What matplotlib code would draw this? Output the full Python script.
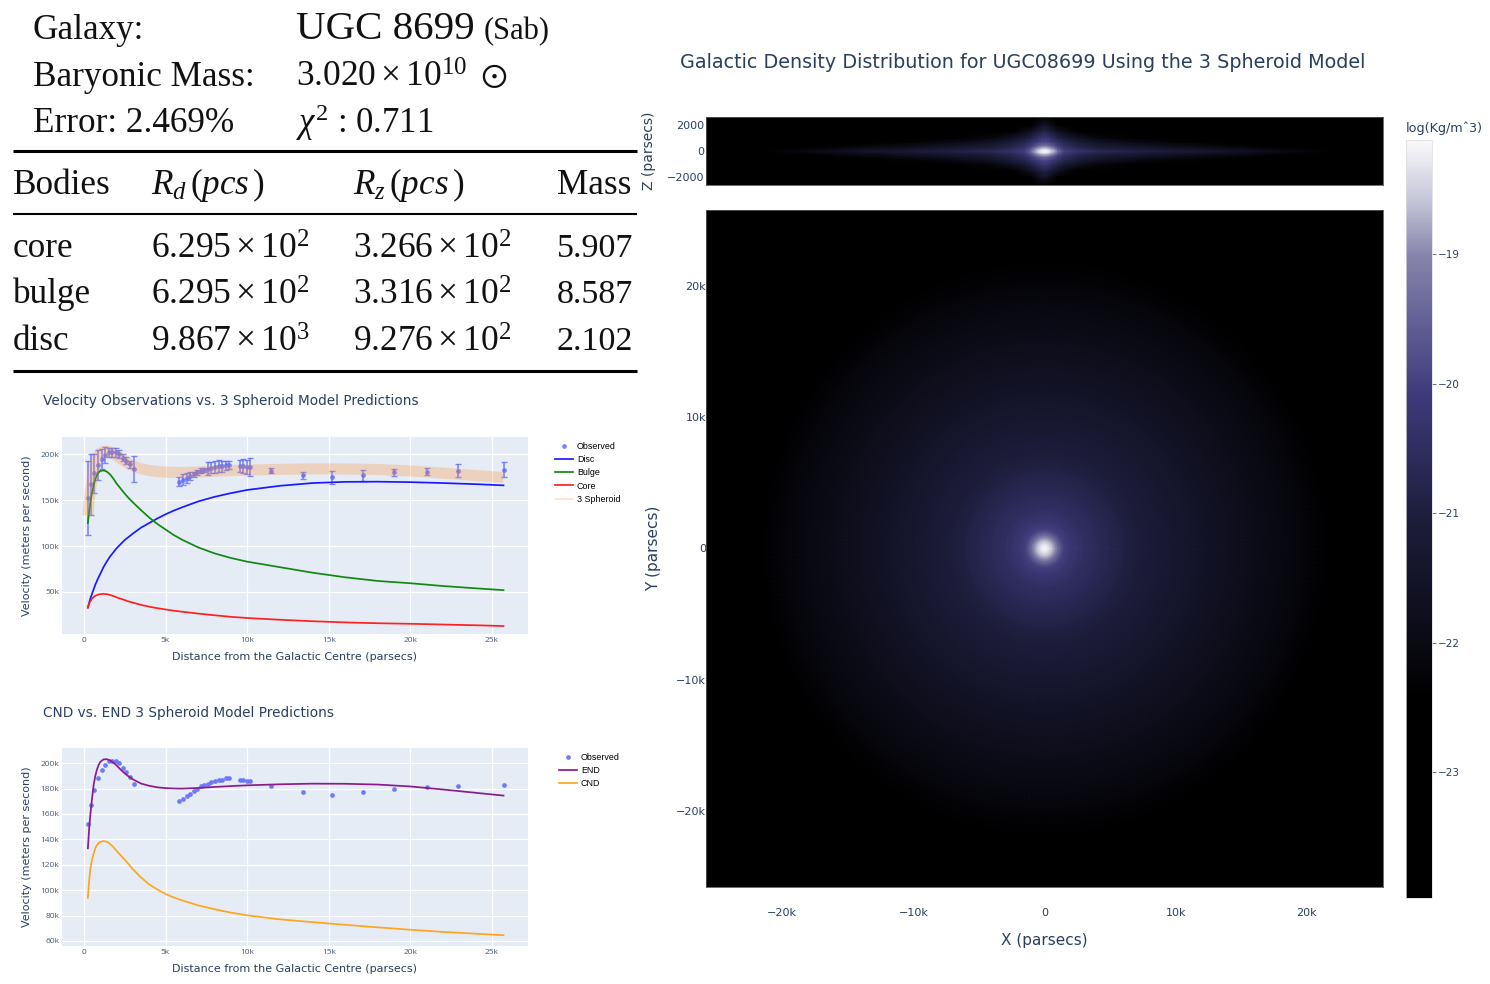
import numpy as np
import matplotlib
matplotlib.use('Agg')
import matplotlib.pyplot as plt
from matplotlib.colors import LinearSegmentedColormap

plt.rcParams['mathtext.fontset'] = 'custom'
plt.rcParams['mathtext.rm'] = 'Liberation Serif'
plt.rcParams['mathtext.it'] = 'Liberation Serif:italic'
plt.rcParams['mathtext.fallback'] = 'stix'

W, H = 1490, 984
NAVY = '#2a3f5f'
TICK = '#44597a'
PLOT_BG = '#e5ecf6'

# observed rotation curve
obs_x = [245, 430, 650, 880, 1080, 1310, 1530, 1740, 1960, 2160, 2370, 2590, 2820, 3040,
         5840, 6070, 6290, 6520, 6740, 6940, 7150, 7370, 7600, 7800, 8030, 8250, 8460, 8680, 8880,
         9540, 9760, 9990, 10190, 11440, 13400, 15200, 17100, 19000, 21000, 22900, 25700]
obs_v = [152, 167, 179, 188, 195, 199, 202, 202, 202, 200, 196, 193, 189, 184,
         170, 172, 174, 176, 178, 180, 182, 183, 184, 185, 186, 187, 187, 188, 188,
         187, 187, 186, 186, 182, 177, 175, 177, 180, 181, 182, 183]
obs_err = [40, 33, 21, 16, 11, 9, 5, 5, 5, 4, 4, 4, 4, 14,
           5, 6, 5, 4, 3, 3, 3, 2, 7, 6, 7, 7, 6, 5, 4,
           7, 8, 8, 10, 2.5, 4, 7, 6, 4, 4, 7, 8]

# model curves
model_x = [245, 320, 400, 500, 600, 700, 800, 900, 1000, 1200, 1400, 1600, 1800, 2000, 2250, 2500, 2750, 3000,
           3500, 4000, 4500, 5000, 5500, 6000, 7000, 8000, 9000, 10000, 12000, 14000, 16000, 18000,
           20000, 22000, 24000, 25700]
disc_v = [33, 38, 43, 48, 53, 58, 62, 66, 69.5, 77, 83, 88.5, 93, 97.5, 102, 106.5, 110, 113.5,
          120, 125, 130, 134.5, 138.5, 142, 148.5, 153.5, 157.5, 161, 165.5, 168.5, 169.8, 170,
          169.5, 168.5, 167.3, 166]
bulge_v = [125, 137, 148, 158, 166, 172.5, 177, 180, 181.5, 182.3, 181, 178, 173.5, 168, 162.5, 157, 152, 147.5,
           139, 131, 124, 118, 112, 107, 98.5, 92, 87, 83, 77, 71, 66, 62,
           59.5, 56.5, 54, 52]
core_v = [33, 37, 40, 42.8, 44.6, 45.8, 46.6, 47.2, 47.6, 48, 47.6, 46.8, 45.6, 44.2, 42.7, 41.2, 39.7, 38.4,
          36, 34, 32.4, 31, 29.7, 28.6, 26.5, 24.7, 23, 21.7, 19.8, 18.2, 16.9, 16,
          15.4, 14.6, 13.8, 13]
spheroid_v = [133, 148, 160, 172, 183, 190, 195, 198.5, 201, 203, 203.2, 202.3, 200.5, 198.3, 195, 192, 189.5, 187.3,
              184, 182.2, 181, 180.4, 180.1, 180, 180.5, 181.3, 182, 182.6, 183.4, 183.9, 183.8, 183.2,
              181.7, 179.3, 176.7, 174.5]
end_v = [133, 148, 160, 172, 183, 190, 195, 198.5, 201, 203, 203.2, 202.3, 200.5, 198.3, 195, 192, 189.5, 187.3,
         184, 182.2, 181, 180.4, 180.1, 180, 180.5, 181.3, 182, 182.6, 183.4, 183.9, 183.8, 183.2,
         181.7, 179.3, 176.7, 174.5]
cnd_v = [94, 107, 117, 124, 129, 133, 135.5, 137, 138, 138.7, 138.2, 136.5, 134, 131, 127.5, 124, 120.3, 116.5,
         110, 104.5, 100.5, 97, 94.3, 92, 88, 85, 82.3, 80.2, 77, 74.8, 72.7, 70.7,
         68.8, 67.1, 65.7, 64.5]

# log density, by radius
face_r = [0, 200, 400, 600, 800, 1000, 1300, 1500, 2000, 3000, 5000, 7000, 10000,
          14000, 18000, 22000, 26000, 37000]
face_rho = [-18.12, -18.2, -18.4, -18.65, -18.95, -19.3, -19.8, -20.0, -20.2, -20.45, -20.75,
            -21.05, -21.35, -21.7, -22.05, -22.4, -22.8, -23.97]

# log density of the edge-on map, one quadrant (rows are z, columns are x)
edge_x = [0, 250, 500, 1000, 1500, 2500, 4000, 7000, 10000, 14000, 18000, 22000, 26000]
edge_z = [0, 100, 200, 400, 700, 1000, 1500, 2000, 2600]
edge_rho = [
    [-18.12, -18.22, -18.45, -19.3, -20.0, -20.35, -20.6, -20.9, -21.15, -21.5, -21.95, -22.35, -22.8],
    [-18.2, -18.3, -18.6, -19.45, -20.1, -20.45, -20.75, -21.05, -21.3, -21.65, -22.1, -22.5, -22.95],
    [-18.5, -18.6, -18.85, -19.65, -20.2, -20.6, -20.95, -21.25, -21.5, -21.85, -22.25, -22.65, -23.1],
    [-19.2, -19.3, -19.5, -20.05, -20.45, -20.85, -21.2, -21.55, -21.85, -22.2, -22.6, -23.0, -23.4],
    [-19.9, -19.95, -20.1, -20.4, -20.75, -21.1, -21.6, -22.05, -22.3, -22.7, -23.0, -23.4, -23.8],
    [-20.15, -20.25, -20.45, -20.85, -21.2, -21.6, -22.1, -22.5, -22.8, -23.1, -23.4, -23.7, -23.97],
    [-20.8, -20.95, -21.15, -21.6, -21.95, -22.4, -22.85, -23.2, -23.4, -23.6, -23.8, -23.97, -23.97],
    [-21.5, -21.65, -21.9, -22.4, -22.7, -23.0, -23.3, -23.6, -23.8, -23.97, -23.97, -23.97, -23.97],
    [-22.8, -22.9, -23.0, -23.2, -23.4, -23.6, -23.8, -23.97, -23.97, -23.97, -23.97, -23.97, -23.97],
]

cmap_pos = [0, 0.268, 0.337, 0.508, 0.662, 0.764, 0.85, 0.918, 1]
cmap_col = ['#000000', '#000000', '#0a0a14', '#1e1e3e', '#3e3a7a', '#646196', '#8785ac', '#c3c3d7', '#fafafc']

# table
head_labels = ['Galaxy:', 'Baryonic Mass:', 'Error: 2.469%']
head_values = [r'UGC 8699', r'$3.020\times10^{10}\ \odot$', r'$\chi^{2}$ : 0.711']
col_names = ['Bodies', r'$R_{d}\,(pcs\,)$', r'$R_{z}\,(pcs\,)$', 'Mass']
bodies = ['core', 'bulge', 'disc']
rd_vals = [r'$6.295\times10^{2}$', r'$6.295\times10^{2}$', r'$9.867\times10^{3}$']
rz_vals = [r'$3.266\times10^{2}$', r'$3.316\times10^{2}$', r'$9.276\times10^{2}$']
mass_vals = ['5.907', '8.587', '2.102']

dist_ticks = [0, 5000, 10000, 15000, 20000, 25000]
dist_labels = ['0', '5k', '10k', '15k', '20k', '25k']
map_ticks = [-20000, -10000, 0, 10000, 20000]
map_labels = ['\u221220k', '\u221210k', '0', '10k', '20k']
z_ticks = [-2000, 0, 2000]
z_labels = ['\u22122000', '0', '2000']
cbar_ticks = [-19, -20, -21, -22, -23]
cbar_labels = ['\u221219', '\u221220', '\u221221', '\u221222', '\u221223']


def px_axes(fig, left, top, right, bottom):
    return fig.add_axes([left / W, 1 - bottom / H, (right - left) / W, (bottom - top) / H])


def curve_panel(fig, top, bottom, ylim, yticks, ylabels):
    ax = px_axes(fig, 62, top, 528, bottom)
    ax.set_facecolor(PLOT_BG)
    ax.set_xlim(-1340, 27200)
    ax.set_ylim(*ylim)
    ax.set_xticks(dist_ticks)
    ax.set_xticklabels(dist_labels)
    ax.set_yticks(yticks)
    ax.set_yticklabels(ylabels)
    ax.grid(color='white', lw=0.9)
    ax.set_axisbelow(True)
    ax.tick_params(length=0, labelsize=6, labelcolor=TICK, pad=2)
    for s in ax.spines.values():
        s.set_visible(False)
    for lab in ax.get_xticklabels() + ax.get_yticklabels():
        lab.set_family('Open Sans')
    ax.set_xlabel('Distance from the Galactic Centre (parsecs)', fontsize=8, color=NAVY, labelpad=6)
    ax.set_ylabel('Velocity (meters per second)', fontsize=8, color=NAVY, labelpad=6)
    return ax


def px_legend(ax, left, top):
    ax.legend(loc='upper left', bbox_to_anchor=(left / W, 1 - top / H), bbox_transform=ax.figure.transFigure,
              frameon=False, borderpad=0, borderaxespad=0, handlelength=2.0,
              handletextpad=0.45, labelspacing=0.47, numpoints=1,
              prop={'family': 'Liberation Sans', 'size': 6.4})


fig = plt.figure(figsize=(W / 100, H / 100), dpi=100)

# page layer in pixel coordinates, for the table and the titles
page = fig.add_axes([0, 0, 1, 1])
page.set_xlim(0, W)
page.set_ylim(H, 0)
page.axis('off')

serif = 'Liberation Serif'
ink = '#111111'
base = [39, 86, 132]
for lab, y in zip(head_labels, base):
    page.text(33, y, lab, family=serif, fontsize=25.3, va='baseline', color=ink)
page.text(296, base[0], head_values[0], family=serif, fontsize=29.5, va='baseline', color=ink)
page.text(484, base[0], '(Sab)', family=serif, fontsize=22, va='baseline', color=ink)
page.text(296, base[1] + 1, head_values[1], family=serif, fontsize=25.5, va='baseline', color=ink)
page.text(296, base[2] + 1, head_values[2], family=serif, fontsize=25, va='baseline', color=ink)

col_x = [13, 151, 353, 557]
for name, x in zip(col_names, col_x):
    page.text(x, 194, name, family=serif, fontsize=25.3, va='baseline', color=ink)
for i, y in enumerate([257, 303, 350]):
    page.text(col_x[0], y, bodies[i], family=serif, fontsize=25.3, va='baseline', color=ink)
    page.text(col_x[1], y + 1.5, rd_vals[i], family=serif, fontsize=25.5, va='baseline', color=ink)
    page.text(col_x[2], y + 1.5, rz_vals[i], family=serif, fontsize=25.5, va='baseline', color=ink)
    page.text(col_x[3], y, mass_vals[i], family=serif, fontsize=24.5, va='baseline', color=ink)
page.hlines([150.5, 370.5], 13, 637, color='black', lw=2.2)
page.hlines([214], 13, 637, color='black', lw=1.5)

page.text(43, 401.5, 'Velocity Observations vs. 3 Spheroid Model Predictions', fontsize=9.8, color=NAVY, va='center')
page.text(43, 712.5, 'CND vs. END 3 Spheroid Model Predictions', fontsize=9.85, color=NAVY, va='center')
page.text(680, 62, 'Galactic Density Distribution for UGC08699 Using the 3 Spheroid Model',
          fontsize=13.75, color=NAVY, va='center')

# velocity components
ax1 = curve_panel(fig, 437, 634, (4300, 218600), [50000, 100000, 150000, 200000], ['50k', '100k', '150k', '200k'])
v_obs = np.array(obs_v) * 1000
ax1.errorbar(obs_x, v_obs, yerr=np.array(obs_err) * 1000, fmt='none', ecolor='#636efa', elinewidth=1.2,
             capsize=2.4, capthick=1.0, alpha=0.8, zorder=3)
ax1.plot(obs_x, v_obs, 'o', color='#636efa', ms=3.4, alpha=0.85, mew=0, label='Observed', zorder=3)
ax1.plot(model_x, np.array(disc_v) * 1000, color='#1a1aff', lw=1.25, label='Disc', zorder=4)
ax1.plot(model_x, np.array(bulge_v) * 1000, color='#118811', lw=1.25, label='Bulge', zorder=4)
ax1.plot(model_x, np.array(core_v) * 1000, color='#ff2020', lw=1.25, label='Core', zorder=4)
ax1.plot(model_x, np.array(spheroid_v) * 1000, color='#ff8c32', lw=8, alpha=0.28, solid_capstyle='butt',
         label='3 Spheroid', zorder=5)
px_legend(ax1, 555, 442)
ax1.get_legend().get_lines()[4].set_linewidth(1.1)

# END and CND
ax2 = curve_panel(fig, 748, 946, (56000, 212000), [60000, 80000, 100000, 120000, 140000, 160000, 180000, 200000],
                  ['60k', '80k', '100k', '120k', '140k', '160k', '180k', '200k'])
ax2.plot(obs_x, v_obs, 'o', color='#636efa', ms=3.4, alpha=0.9, mew=0, label='Observed', zorder=3)
ax2.plot(model_x, np.array(end_v) * 1000, color='#8b1a8b', lw=1.25, label='END', zorder=4)
ax2.plot(model_x, np.array(cnd_v) * 1000, color='#ffa51e', lw=1.25, label='CND', zorder=4)
px_legend(ax2, 559, 753)

# density maps
cmap = LinearSegmentedColormap.from_list('density', list(zip(cmap_pos, cmap_col)), N=512)
vmin, vmax = -23.97, -18.12

ax_xy = px_axes(fig, 706, 210, 1383, 887)
theta = np.linspace(0, 2 * np.pi, 361)
rr, tt = np.meshgrid(face_r, theta)
cc = np.tile(face_rho, (len(theta), 1))
mesh = ax_xy.pcolormesh(rr * np.cos(tt), rr * np.sin(tt), cc, shading='gouraud', cmap=cmap, vmin=vmin, vmax=vmax,
                        rasterized=True)
ax_xy.set_xlim(-25800, 25800)
ax_xy.set_ylim(-25800, 25800)
ax_xy.set_xticks(map_ticks)
ax_xy.set_xticklabels(map_labels)
ax_xy.set_yticks(map_ticks)
ax_xy.set_yticklabels(map_labels)
ax_xy.tick_params(length=0, labelsize=8, labelcolor=NAVY, pad=0)
ax_xy.tick_params(axis='x', pad=15)
ax_xy.set_xlabel('X (parsecs)', fontsize=11, color=NAVY, labelpad=11)
for s in ax_xy.spines.values():
    s.set_color('#555555')
    s.set_linewidth(0.6)

ax_xz = px_axes(fig, 706, 117, 1383, 185)
edge_q = np.array(edge_rho)
edge_full = np.concatenate([edge_q[::-1, :], edge_q[1:, :]], axis=0)
edge_full = np.concatenate([edge_full[:, ::-1], edge_full[:, 1:]], axis=1)
xs = np.array(edge_x)
zs = np.array(edge_z)
xs_full = np.concatenate([-xs[::-1], xs[1:]])
zs_full = np.concatenate([-zs[::-1], zs[1:]])
ax_xz.pcolormesh(xs_full, zs_full, edge_full, shading='gouraud', cmap=cmap, vmin=vmin, vmax=vmax, rasterized=True)
ax_xz.set_xlim(-25800, 25800)
ax_xz.set_ylim(-2600, 2600)
ax_xz.set_xticks([])
ax_xz.set_yticks(z_ticks)
ax_xz.set_yticklabels(z_labels)
ax_xz.tick_params(length=0, labelsize=8, labelcolor=NAVY, pad=1)
for s in ax_xz.spines.values():
    s.set_color('#555555')
    s.set_linewidth(0.6)

page.text(654, 548, 'Y (parsecs)', fontsize=11, color=NAVY, rotation=90, ha='center', va='center')
page.text(649, 151, 'Z (parsecs)', fontsize=10, color=NAVY, rotation=90, ha='center', va='center')

cax = px_axes(fig, 1406, 140, 1432, 898)
cb = fig.colorbar(mesh, cax=cax)
cb.set_ticks(cbar_ticks)
cb.set_ticklabels(cbar_labels)
cb.ax.tick_params(length=3, width=0.6, color=TICK, labelsize=7.5, labelcolor=NAVY, pad=1)
cb.outline.set_edgecolor('#dddddd')
cb.outline.set_linewidth(0.5)
page.text(1406, 128, 'log(Kg/m\u02c63)', fontsize=9.2, color=NAVY, va='center')

fig.savefig('out.png', dpi=100)
